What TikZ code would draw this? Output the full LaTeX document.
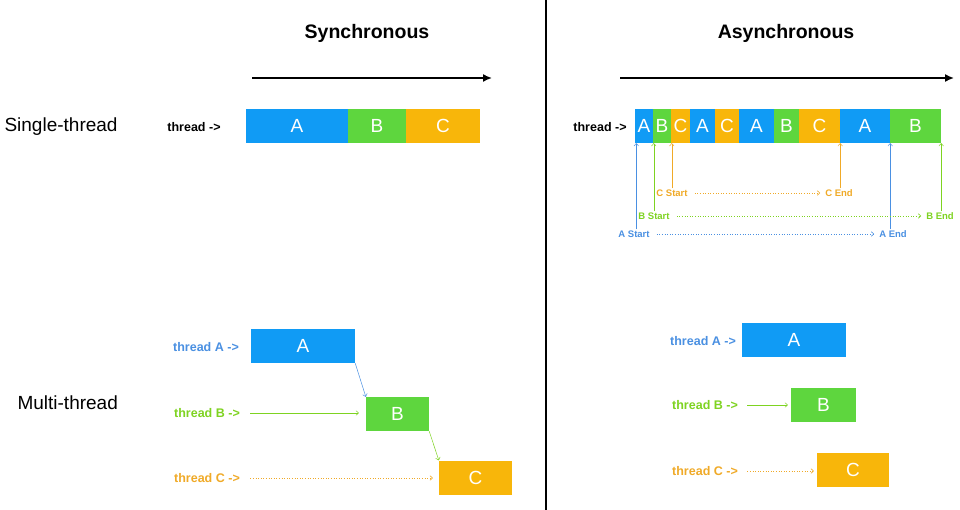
\documentclass[tikz,border=0pt]{standalone}
\usepackage{fontspec}
\setmainfont{Liberation Sans}
\usetikzlibrary{arrows.meta}
\definecolor{boxblue}{RGB}{16,155,245}
\definecolor{boxgreen}{RGB}{94,214,62}
\definecolor{boxorange}{RGB}{248,182,10}
\definecolor{lblblue}{RGB}{74,144,226}
\definecolor{lblgreen}{RGB}{126,211,33}
\definecolor{lblorange}{RGB}{240,170,40}
\tikzset{
  seg/.style={draw=none, inner sep=0pt, minimum height=34pt, text=white, font=\fontsize{19}{19}\selectfont},
  title/.style={font=\bfseries\fontsize{19.5}{20}\selectfont},
  rowlbl/.style={font=\fontsize{19}{19}\selectfont, anchor=west},
  thr/.style={font=\bfseries\fontsize{12.5}{13}\selectfont},
  evt/.style={font=\bfseries\fontsize{9.5}{10}\selectfont, inner sep=1pt},
  timeline/.style={line width=1.6pt, -{Latex[length=9pt,width=8pt]}},
  thin/.style={line width=0.5pt, -{To[length=3pt,width=5pt]}},
  dotln/.style={line width=0.6pt, dotted, -{To[length=3pt,width=5pt]}},
}
\begin{document}
\begin{tikzpicture}[x=1pt,y=-1pt]
\useasboundingbox[fill=white] (0,0) rectangle (960,510);
% divider
\coordinate (d1) at (546,0); \coordinate (d2) at (546,510);
\draw[line width=1.2pt] (d1) -- (d2);
% titles
\node[title] (ts) at (367,33) {Synchronous};
\node[title] (ta) at (786,33) {Asynchronous};
\coordinate (s1) at (252,78); \coordinate (s2) at (492,78);
\draw[timeline] (s1) -- (s2);
\coordinate (a1) at (620,78); \coordinate (a2) at (954,78);
\draw[timeline] (a1) -- (a2);
% row labels
\node[rowlbl] (rs) at (1,127) {Single-thread};
\node[rowlbl] (rm) at (14,403) {Multi-thread};
% sync single
\node[thr] (st) at (194,127) {thread ->};
\node[seg, fill=boxblue, minimum width=102pt] (sA) at (297,126) {A};
\node[seg, fill=boxgreen, minimum width=58pt] (sB) at (377,126) {B};
\node[seg, fill=boxorange, minimum width=74pt] (sC) at (443,126) {C};
% async single
\node[thr] (at) at (600,127) {thread ->};
\node[seg, fill=boxblue, minimum width=18pt] (q1) at (644,126) {A};
\node[seg, fill=boxgreen, minimum width=18pt] (q2) at (662,126) {B};
\node[seg, fill=boxorange, minimum width=19pt] (q3) at (680.5,126) {C};
\node[seg, fill=boxblue, minimum width=25pt] (q4) at (702.5,126) {A};
\node[seg, fill=boxorange, minimum width=24pt] (q5) at (727,126) {C};
\node[seg, fill=boxblue, minimum width=35pt] (q6) at (756.5,126) {A};
\node[seg, fill=boxgreen, minimum width=25pt] (q7) at (786.5,126) {B};
\node[seg, fill=boxorange, minimum width=41pt] (q8) at (819.5,126) {C};
\node[seg, fill=boxblue, minimum width=50pt] (q9) at (865,126) {A};
\node[seg, fill=boxgreen, minimum width=51pt] (q10) at (915.5,126) {B};
% event labels
\node[evt, text=lblorange] (cs) at (672,193) {C Start};
\node[evt, text=lblorange] (ce) at (839,193) {C End};
\node[evt, text=lblgreen] (bs) at (654,216) {B Start};
\node[evt, text=lblgreen] (be) at (940,216) {B End};
\node[evt, text=lblblue] (as) at (634,234) {A Start};
\node[evt, text=lblblue] (ae) at (893,234) {A End};
\draw[thin, draw=lblblue] (as.north -| q1.west) ++(1.5,0) coordinate (p1) -- (p1 |- q1.south);
\draw[thin, draw=lblgreen] (bs.north -| q2.west) ++(1,0) coordinate (p2) -- (p2 |- q2.south);
\draw[thin, draw=lblorange] (cs.north -| q3.west) ++(1,0) coordinate (p3) -- (p3 |- q3.south);
\draw[thin, draw=lblorange] (ce.north -| q8.east) coordinate (p4) -- (p4 |- q8.south);
\draw[thin, draw=lblblue] (ae.north -| q9.east) coordinate (p5) -- (p5 |- q9.south);
\draw[thin, draw=lblgreen] (be.north -| q10.east) coordinate (p6) -- (p6 |- q10.south);
\draw[dotln, draw=lblorange] (cs.east) ++(6,0) -- ([xshift=-4pt]ce.west);
\draw[dotln, draw=lblgreen] (bs.east) ++(6,0) -- ([xshift=-4pt]be.west);
\draw[dotln, draw=lblblue] (as.east) ++(6,0) -- ([xshift=-4pt]ae.west);
% sync multi
\node[thr, text=lblblue] (tA) at (206,347) {thread A ->};
\node[thr, text=lblgreen] (tB) at (207,413) {thread B ->};
\node[thr, text=lblorange] (tC) at (207,478) {thread C ->};
\node[seg, fill=boxblue, minimum width=104pt] (mA) at (303,346) {A};
\node[seg, fill=boxgreen, minimum width=63pt] (mB) at (397.5,414) {B};
\node[seg, fill=boxorange, minimum width=73pt] (mC) at (475.5,477.5) {C};
\draw[thin, draw=lblgreen] ([xshift=7pt]tB.east) -- ([xshift=-7pt]tB.east -| mB.west);
\draw[dotln, draw=lblorange] ([xshift=7pt]tC.east) -- ([xshift=-6pt]tC.east -| mC.west);
\draw[thin, draw=lblblue] (mA.south east) -- (mB.north west);
\draw[thin, draw=lblgreen] (mB.south east) -- (mC.north west);
% async multi
\node[thr, text=lblblue] (uA) at (703,341) {thread A ->};
\node[thr, text=lblgreen] (uB) at (705,405) {thread B ->};
\node[thr, text=lblorange] (uC) at (705,471) {thread C ->};
\node[seg, fill=boxblue, minimum width=104pt] (nA) at (794,340) {A};
\node[seg, fill=boxgreen, minimum width=65pt] (nB) at (823.5,404.5) {B};
\node[seg, fill=boxorange, minimum width=72pt] (nC) at (853,470) {C};
\draw[thin, draw=lblgreen] ([xshift=6pt]uB.east) -- ([xshift=-3pt]uB.east -| nB.west);
\draw[dotln, draw=lblorange] ([xshift=6pt]uC.east) -- ([xshift=-3pt]uC.east -| nC.west);
\end{tikzpicture}
\end{document}
